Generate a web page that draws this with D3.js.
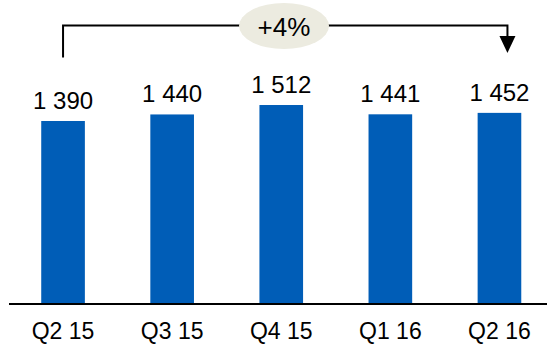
<!DOCTYPE html>
<html>
<head>
<meta charset="utf-8">
<script src="https://cdn.jsdelivr.net/npm/d3@7"></script>
<style>
  html, body { margin: 0; padding: 0; background: #fff; }
  svg { display: block; font-family: "Liberation Sans", Arial, sans-serif; }
</style>
</head>
<body>
<svg id="chart" width="547" height="344"></svg>
<script>
// Quarterly values
const categories = ["Q2 15", "Q3 15", "Q4 15", "Q1 16", "Q2 16"];
const values = [1390, 1440, 1512, 1441, 1452];
const valueLabels = ["1 390", "1 440", "1 512", "1 441", "1 452"];
const changeLabel = "+4%";

const W = 547, H = 344;
const svg = d3.select("#chart");

const x = d3.scaleBand()
  .domain(categories)
  .range([8.5, 554])
  .paddingInner(0.6)
  .paddingOuter(0.3);

const y = d3.scaleLinear()
  .domain([0, 1700])
  .range([303, 80.4]);

// Bars
svg.append("g").selectAll("rect")
  .data(values)
  .join("rect")
  .attr("x", (d, i) => x(categories[i]))
  .attr("y", d => y(d))
  .attr("width", x.bandwidth())
  .attr("height", d => y(0) - y(d))
  .attr("fill", "#005db7");

// Value labels above bars
svg.append("g").selectAll("text")
  .data(values)
  .join("text")
  .attr("x", (d, i) => x(categories[i]) + x.bandwidth() / 2)
  .attr("y", d => y(d) - 12)
  .attr("text-anchor", "middle")
  .attr("font-size", 24)
  .attr("fill", "#000")
  .text((d, i) => valueLabels[i]);

// Category axis along the baseline
const axis = svg.append("g")
  .attr("transform", `translate(0,${y(0) + 1})`)
  .call(d3.axisBottom(x).tickSize(0).tickPadding(19));
axis.select(".domain").remove();
axis.append("line")
  .attr("x1", 9).attr("x2", W)
  .attr("stroke", "#000").attr("stroke-width", 2);
axis.selectAll(".tick text")
  .attr("font-size", 23)
  .attr("font-family", "Liberation Sans, Arial, sans-serif")
  .attr("fill", "#000");

// Change bracket from first to last quarter
const xFirst = x(categories[0]) + x.bandwidth() / 2;
const xLast = x(categories[categories.length - 1]) + x.bandwidth() / 2 + 8;
const bracketY = 25.5;
svg.append("path")
  .attr("d", `M${xFirst},57.5 V${bracketY} H${xLast} V40`)
  .attr("fill", "none")
  .attr("stroke", "#000")
  .attr("stroke-width", 2);
svg.append("path")
  .attr("d", `M${xLast - 8},36 L${xLast + 8},36 L${xLast},53 Z`)
  .attr("fill", "#000");

// Change badge
const cx = 284;
svg.append("ellipse")
  .attr("cx", cx).attr("cy", 26)
  .attr("rx", 45).attr("ry", 23)
  .attr("fill", "#ecebe0");
svg.append("text")
  .attr("x", cx).attr("y", 27)
  .attr("dy", "0.35em")
  .attr("text-anchor", "middle")
  .attr("font-size", 26)
  .attr("fill", "#000")
  .text(changeLabel);
</script>
</body>
</html>
